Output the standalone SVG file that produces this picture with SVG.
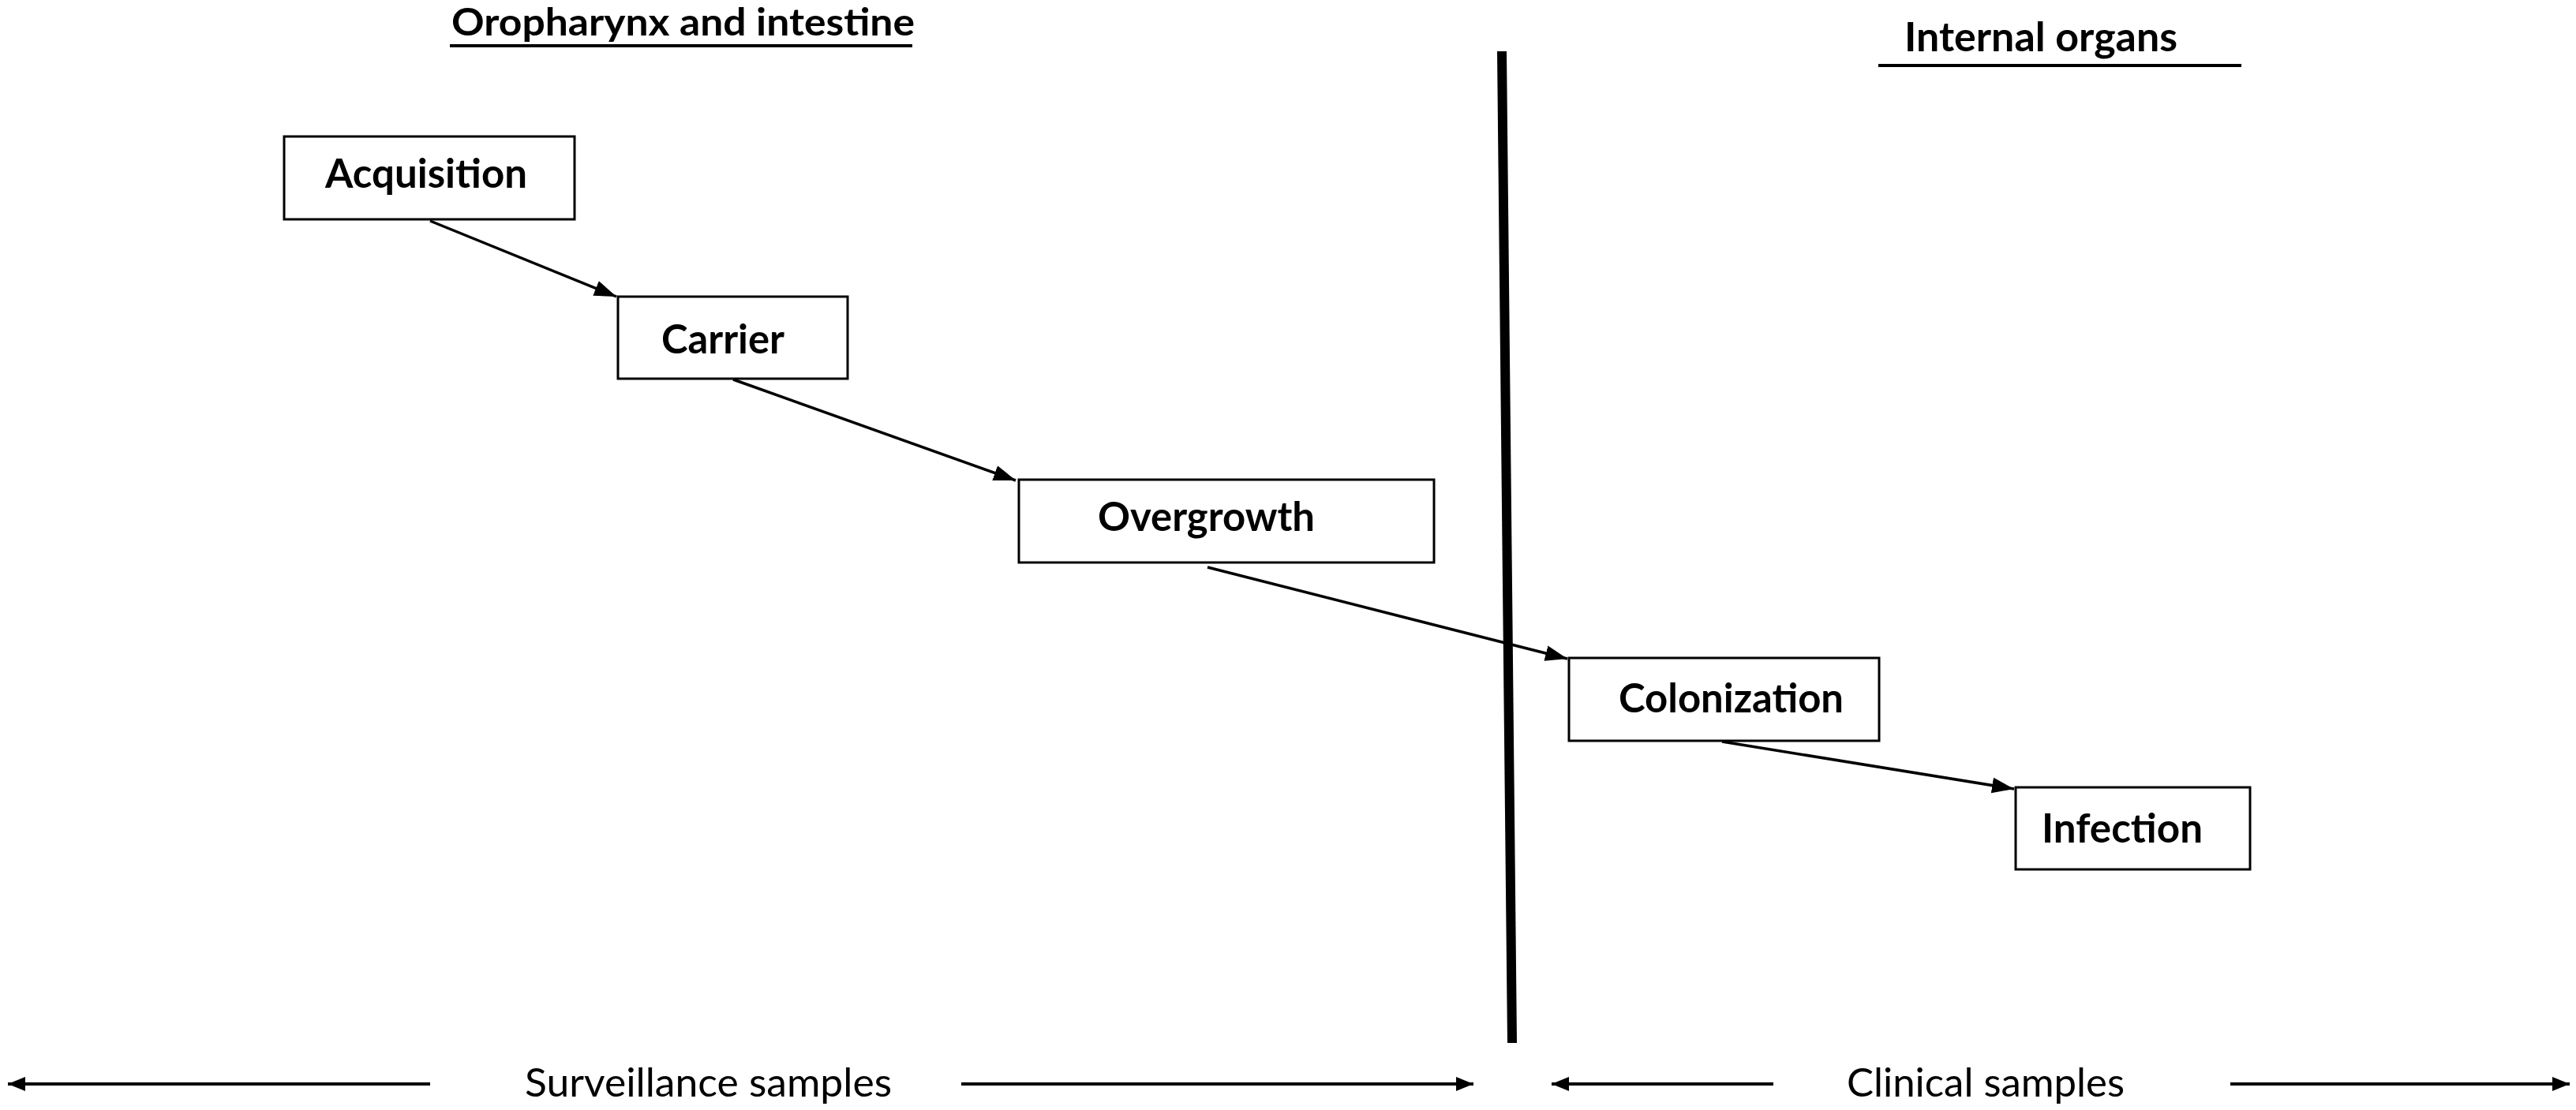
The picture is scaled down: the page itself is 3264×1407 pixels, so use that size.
<svg xmlns="http://www.w3.org/2000/svg" width="3264" height="1407" viewBox="0 0 3264 1407">
  <style>
    .box { fill: #ffffff; stroke: #000000; stroke-width: 3; }
    .lbl { font-family: Lato, "Open Sans", "Liberation Sans", sans-serif; font-weight: bold; font-size: 51px; fill: #000000; }
    .hdr { font-family: Lato, "Open Sans", "Liberation Sans", sans-serif; font-weight: bold; font-size: 47px; fill: #000000; }
    .reg { font-family: Lato, "Open Sans", "Liberation Sans", sans-serif; font-weight: normal; font-size: 51px; fill: #000000; }
    .conn { stroke: #000000; stroke-width: 3.5; fill: none; marker-end: url(#ah); }
    .rule { stroke: #000000; stroke-width: 4; }
    .span { stroke: #000000; stroke-width: 4; fill: none; }
  </style>
  <defs>
    <marker id="ah" markerUnits="userSpaceOnUse" markerWidth="30" markerHeight="22" refX="28" refY="10" orient="auto">
      <path d="M0,0 L28,10 L0,20 z" fill="#000000"/>
    </marker>
    <marker id="sh" markerUnits="userSpaceOnUse" markerWidth="24" markerHeight="20" refX="22" refY="9" orient="auto">
      <path d="M0,0 L22,9 L0,18 z" fill="#000000"/>
    </marker>
  </defs>
  <rect width="3264" height="1407" fill="#ffffff"/>

  <g id="headers">
    <text class="hdr" x="572" y="45" textLength="587" lengthAdjust="spacingAndGlyphs">Oropharynx and intestine</text>
    <line class="rule" x1="570" y1="58" x2="1156" y2="58"/>
    <text class="lbl" x="2413" y="65" textLength="346" lengthAdjust="spacingAndGlyphs">Internal organs</text>
    <line class="rule" x1="2380" y1="83" x2="2840" y2="83"/>
  </g>

  <g id="divider">
    <line x1="1903" y1="65" x2="1916" y2="1322" stroke="#000000" stroke-width="12"/>
  </g>

  <g id="connectors">
    <line class="conn" x1="545" y1="280" x2="781" y2="376"/>
    <line class="conn" x1="929" y1="481" x2="1287" y2="609"/>
    <line class="conn" x1="1530" y1="719" x2="1986" y2="835"/>
    <line class="conn" x1="2182" y1="940" x2="2552" y2="1000"/>
  </g>

  <g id="node-acquisition">
    <rect class="box" x="360" y="173" width="368" height="105"/>
    <text class="lbl" x="412" y="238" textLength="256" lengthAdjust="spacingAndGlyphs">Acquisition</text>
  </g>
  <g id="node-carrier">
    <rect class="box" x="783" y="376" width="291" height="104"/>
    <text class="lbl" x="838" y="448" textLength="156" lengthAdjust="spacingAndGlyphs">Carrier</text>
  </g>
  <g id="node-overgrowth">
    <rect class="box" x="1291" y="608" width="526" height="105"/>
    <text class="lbl" x="1391" y="673" textLength="275" lengthAdjust="spacingAndGlyphs">Overgrowth</text>
  </g>
  <g id="node-colonization">
    <rect class="box" x="1988" y="834" width="393" height="105"/>
    <text class="lbl" x="2051" y="903" textLength="285" lengthAdjust="spacingAndGlyphs">Colonization</text>
  </g>
  <g id="node-infection">
    <rect class="box" x="2554" y="998" width="297" height="104"/>
    <text class="lbl" x="2587" y="1068" textLength="204" lengthAdjust="spacingAndGlyphs">Infection</text>
  </g>

  <g id="samples">
    <line class="span" x1="545" y1="1374" x2="10" y2="1374" marker-end="url(#sh)"/>
    <text class="reg" x="665" y="1390" textLength="465" lengthAdjust="spacingAndGlyphs">Surveillance samples</text>
    <line class="span" x1="1218" y1="1374" x2="1867" y2="1374" marker-end="url(#sh)"/>
    <line class="span" x1="2247" y1="1374" x2="1966" y2="1374" marker-end="url(#sh)"/>
    <text class="reg" x="2340" y="1390" textLength="352" lengthAdjust="spacingAndGlyphs">Clinical samples</text>
    <line class="span" x1="2826" y1="1374" x2="3256" y2="1374" marker-end="url(#sh)"/>
  </g>
</svg>
